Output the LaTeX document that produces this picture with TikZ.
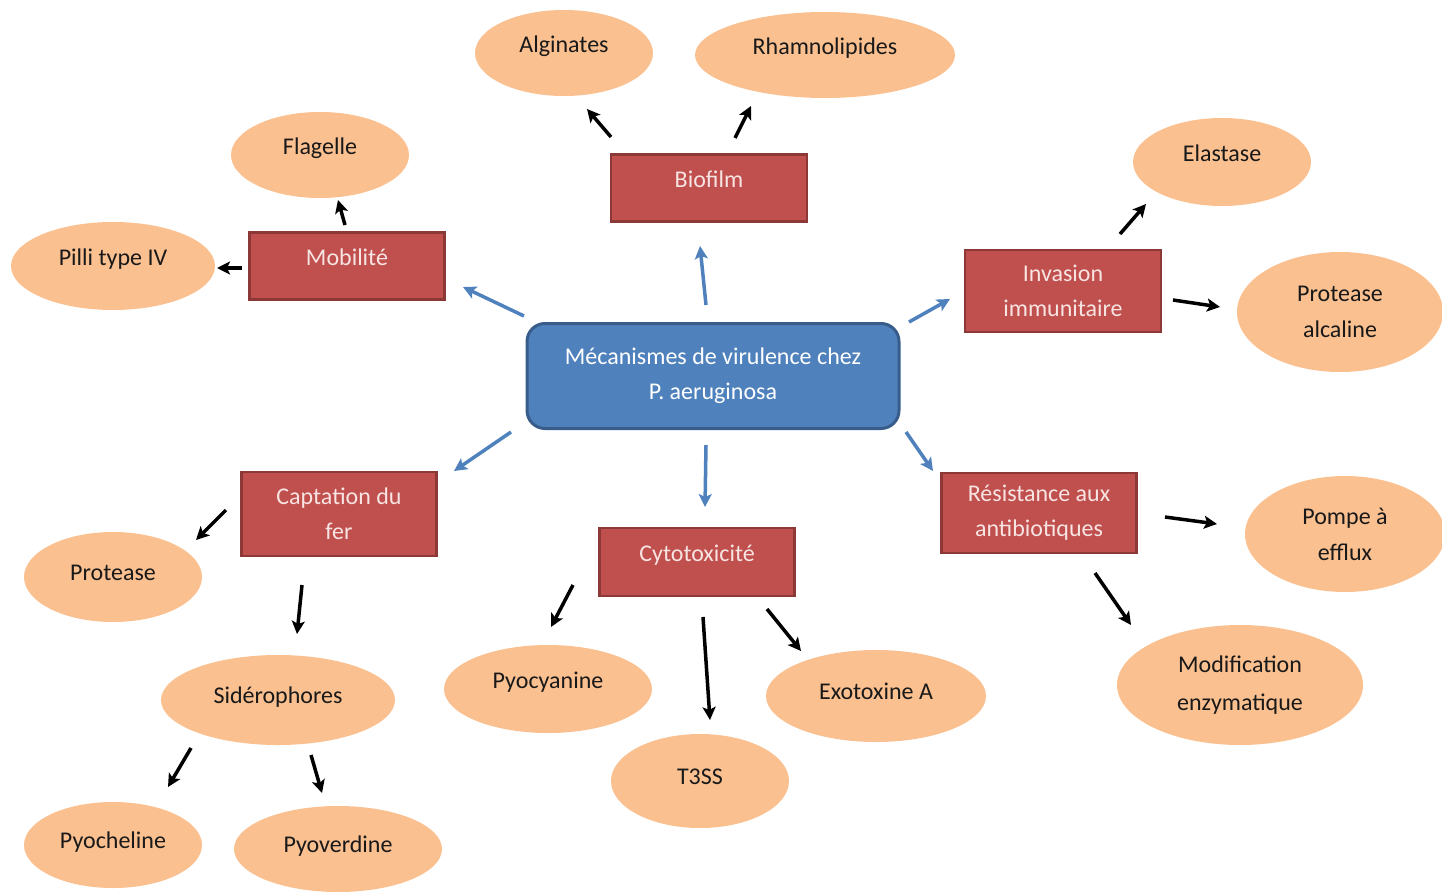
\documentclass[tikz,border=0pt]{standalone}
\usepackage{fontspec}
\setmainfont{Carlito}
\usetikzlibrary{shapes.geometric,arrows.meta}
\definecolor{boxred}{HTML}{C0504D}
\definecolor{boxredline}{HTML}{8C3836}
\definecolor{boxblue}{HTML}{4F81BD}
\definecolor{boxblueline}{HTML}{385D8A}
\definecolor{peach}{HTML}{FAC090}
\definecolor{ltext}{HTML}{F7E4E3}
\tikzset{
  redbox/.style={rectangle, fill=boxred, draw=boxredline, line width=2.5pt, text=ltext, align=center, inner sep=0pt, font=\fontsize{24}{35}\selectfont},
  bluebox/.style={rectangle, rounded corners=18pt, fill=boxblue, draw=boxblueline, line width=3pt, text=white, align=center, inner sep=0pt, font=\fontsize{24}{35}\selectfont},
  oval/.style={ellipse, fill=peach, draw=none, inner sep=0pt, align=center, text=black!90, font=\fontsize{24}{36}\selectfont},
  raised/.style={text height=18pt, text depth=20pt},
  raisedlow/.style={text height=18pt, text depth=12pt},
  blk/.style={-{Stealth[length=13pt,width=13pt,inset=3pt]}, line width=3.5pt, black},
  blu/.style={-{Stealth[length=13pt,width=13pt,inset=3pt]}, line width=3.5pt, boxblue},
}
\begin{document}
\begin{tikzpicture}[x=1pt,y=-1pt]
\useasboundingbox (0,0) rectangle (1442,894);
% central
\node[bluebox, minimum width=372pt, minimum height=105pt] (c) at (713,376) {Mécanismes de virulence chez\\P. aeruginosa};
% categories
\node[redbox, raised, minimum width=196pt, minimum height=67pt] (bio) at (709,188) {Biofilm};
\node[redbox, raised, minimum width=195pt, minimum height=67pt] (mob) at (347,266) {Mobilité};
\node[redbox, minimum width=196pt, minimum height=82pt] (inv) at (1063,291) {Invasion\\immunitaire};
\node[redbox, minimum width=195pt, minimum height=84pt] (cap) at (339,514) {Captation du\\fer};
\node[redbox, raised, minimum width=195pt, minimum height=68pt] (cyt) at (697,562) {Cytotoxicité};
\node[redbox, minimum width=195pt, minimum height=80pt] (res) at (1039,513) {Résistance aux\\antibiotiques};
% ellipses
\node[oval, raised, minimum width=178pt, minimum height=86pt] (alg) at (564,53) {Alginates};
\node[oval, raised, minimum width=260pt, minimum height=86pt] (rha) at (825,55) {Rhamnolipides};
\node[oval, raised, minimum width=178pt, minimum height=86pt] (fla) at (320,155) {Flagelle};
\node[oval, raised, minimum width=204pt, minimum height=88pt] (pil) at (113,266) {Pilli type IV};
\node[oval, raised, minimum width=178pt, minimum height=88pt] (ela) at (1222,162) {Elastase};
\node[oval, minimum width=206pt, minimum height=120pt] (pal) at (1340,312) {Protease\\alcaline};
\node[oval, raisedlow, minimum width=178pt, minimum height=90pt] (pro) at (113,577) {Protease};
\node[oval, raisedlow, minimum width=234pt, minimum height=90pt] (sid) at (278,700) {Sidérophores};
\node[oval, raisedlow, minimum width=178pt, minimum height=86pt] (pch) at (113,845) {Pyocheline};
\node[oval, raisedlow, minimum width=208pt, minimum height=86pt] (pvd) at (338,849) {Pyoverdine};
\node[oval, raised, minimum width=208pt, minimum height=88pt] (pcy) at (548,689) {Pyocyanine};
\node[oval, raisedlow, minimum width=178pt, minimum height=94pt] (t3) at (700,781) {T3SS};
\node[oval, raisedlow, minimum width=220pt, minimum height=92pt] (exo) at (876,696) {Exotoxine A};
\node[oval, minimum width=200pt, minimum height=116pt] (pom) at (1345,534) {Pompe à\\efflux};
\node[oval, minimum width=246pt, minimum height=120pt, font=\fontsize{24}{38}\selectfont] (mod) at (1240,685) {Modification\\enzymatique};
% arrow end points
\coordinate (a1s) at (611,137); \coordinate (a1e) at (587,109);
\coordinate (a2s) at (735,138); \coordinate (a2e) at (751,106);
\coordinate (a3s) at (345,225); \coordinate (a3e) at (338,200);
\coordinate (a4s) at (242,268); \coordinate (a4e) at (217,268);
\coordinate (a5s) at (1120,234); \coordinate (a5e) at (1146,204);
\coordinate (a6s) at (1173,300); \coordinate (a6e) at (1220,307);
\coordinate (a7s) at (226,510); \coordinate (a7e) at (196,540);
\coordinate (a8s) at (302,585); \coordinate (a8e) at (297,634);
\coordinate (a9s) at (191,748); \coordinate (a9e) at (168,787);
\coordinate (a10s) at (311,755); \coordinate (a10e) at (322,793);
\coordinate (a11s) at (573,585); \coordinate (a11e) at (551,627);
\coordinate (a12s) at (703,617); \coordinate (a12e) at (710,720);
\coordinate (a13s) at (767,609); \coordinate (a13e) at (801,651);
\coordinate (a14s) at (1165,517); \coordinate (a14e) at (1217,524);
\coordinate (a15s) at (1095,573); \coordinate (a15e) at (1131,625);
\draw[blk] (a1s) -- (a1e);
\draw[blk] (a2s) -- (a2e);
\draw[blk] (a3s) -- (a3e);
\draw[blk] (a4s) -- (a4e);
\draw[blk] (a5s) -- (a5e);
\draw[blk] (a6s) -- (a6e);
\draw[blk] (a7s) -- (a7e);
\draw[blk] (a8s) -- (a8e);
\draw[blk] (a9s) -- (a9e);
\draw[blk] (a10s) -- (a10e);
\draw[blk] (a11s) -- (a11e);
\draw[blk] (a12s) -- (a12e);
\draw[blk] (a13s) -- (a13e);
\draw[blk] (a14s) -- (a14e);
\draw[blk] (a15s) -- (a15e);
% blue arrows
\coordinate (b1s) at (706,305); \coordinate (b1e) at (700,246);
\coordinate (b2s) at (524,316); \coordinate (b2e) at (463,287);
\coordinate (b3s) at (909,322); \coordinate (b3e) at (950,299);
\coordinate (b4s) at (511,432); \coordinate (b4e) at (454,471);
\coordinate (b5s) at (706,445); \coordinate (b5e) at (705,507);
\coordinate (b6s) at (906,432); \coordinate (b6e) at (933,471);
\draw[blu] (b1s) -- (b1e);
\draw[blu] (b2s) -- (b2e);
\draw[blu] (b3s) -- (b3e);
\draw[blu] (b4s) -- (b4e);
\draw[blu] (b5s) -- (b5e);
\draw[blu] (b6s) -- (b6e);
\end{tikzpicture}
\end{document}
